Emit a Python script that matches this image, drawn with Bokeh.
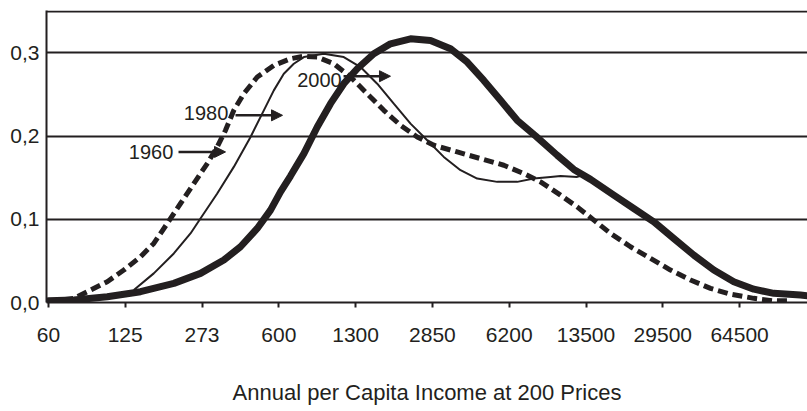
from bokeh.plotting import figure
from bokeh.models import Range1d, FixedTicker, Label, Arrow, NormalHead
from bokeh.embed import file_html
from bokeh.resources import INLINE

# x positions are expressed in tick-index units (0 = "60", 1 = "125", ...)
tick_labels = ["60", "125", "273", "600", "1300", "2850", "6200", "13500", "29500", "64500"]
y_ticks = [0.0, 0.1, 0.2, 0.3]
y_tick_labels = ["0,0", "0,1", "0,2", "0,3"]

x_1960 = [0.0, 0.331, 0.548, 0.766, 0.982, 1.199, 1.372, 1.547, 1.720, 1.893, 2.068, 2.198, 2.306, 2.414,
          2.544, 2.719, 2.935, 3.152, 3.326, 3.500, 3.716, 3.934, 4.151, 4.367, 4.585, 4.802, 5.018,
          5.323, 5.626, 5.930, 6.190, 6.408, 6.668, 6.885, 7.102, 7.319, 7.579, 7.840, 8.100, 8.361,
          8.621, 8.882, 9.185, 9.445, 9.624]
y_1960 = [0.001, 0.005, 0.015, 0.025, 0.039, 0.055, 0.071, 0.095, 0.119, 0.143, 0.167, 0.187, 0.207, 0.231,
          0.251, 0.271, 0.285, 0.293, 0.296, 0.295, 0.287, 0.271, 0.251, 0.231, 0.213, 0.199, 0.189,
          0.181, 0.173, 0.165, 0.155, 0.145, 0.129, 0.115, 0.099, 0.083, 0.067, 0.053, 0.039, 0.027,
          0.017, 0.010, 0.005, 0.002, 0.002]

x_1980 = [1.112, 1.372, 1.633, 1.850, 1.980, 2.198, 2.414, 2.632, 2.805, 2.935, 3.065, 3.195, 3.326, 3.586,
          3.846, 4.064, 4.281, 4.497, 4.715, 4.932, 5.148, 5.366, 5.583, 5.844, 6.104, 6.320, 6.538,
          6.668, 6.885, 6.960]
y_1980 = [0.015, 0.035, 0.059, 0.083, 0.101, 0.131, 0.163, 0.199, 0.231, 0.255, 0.275, 0.287, 0.295, 0.299,
          0.295, 0.283, 0.263, 0.239, 0.215, 0.195, 0.175, 0.159, 0.149, 0.145, 0.145, 0.149, 0.151,
          0.152, 0.151, 0.153]

x_2000 = [0.0, 0.331, 0.766, 1.199, 1.633, 1.980, 2.284, 2.501, 2.719, 2.892, 3.022, 3.152, 3.326, 3.500,
          3.673, 3.846, 4.021, 4.237, 4.454, 4.715, 4.975, 5.236, 5.453, 5.669, 5.887, 6.104, 6.346,
          6.625, 6.841, 7.059, 7.362, 7.622, 7.883, 8.143, 8.404, 8.664, 8.924, 9.185, 9.445, 9.792, 9.900]
y_2000 = [0.002, 0.003, 0.007, 0.013, 0.023, 0.035, 0.051, 0.067, 0.089, 0.111, 0.133, 0.152, 0.179, 0.211,
          0.239, 0.263, 0.281, 0.299, 0.311, 0.317, 0.315, 0.305, 0.289, 0.267, 0.243, 0.219, 0.200,
          0.177, 0.160, 0.148, 0.129, 0.113, 0.097, 0.077, 0.057, 0.039, 0.025, 0.016, 0.011, 0.009, 0.008]

# annotations: label text, label anchor, arrow start/end (tick-index units, value units)
ann_text = ["1960", "1980", "2000"]
ann_x = [1.047, 1.763, 3.240]
ann_y = [0.181, 0.228, 0.268]
arr_x0 = [1.694, 2.436, 3.843]
arr_x1 = [2.306, 3.048, 4.454]
arr_y = [0.181, 0.225, 0.272]

INK = "#231f20"
FONT = "Liberation Sans"

p = figure(frame_width=761, frame_height=292, output_backend="svg", toolbar_location=None,
           x_range=Range1d(-0.025, 9.884), y_range=Range1d(0, 0.351),
           min_border_left=46, min_border_right=0, min_border_top=10, min_border_bottom=0)
p.outline_line_color = None
p.background_fill_color = "white"
p.border_fill_color = "white"

# grid
p.xgrid.grid_line_color = None
p.ygrid.ticker = FixedTicker(ticks=[0.1, 0.2, 0.3, 0.35])
p.ygrid.grid_line_color = INK
p.ygrid.grid_line_width = 2

# x axis
p.xaxis.ticker = FixedTicker(ticks=list(range(len(tick_labels))))
p.xaxis.major_label_overrides = {i: t for i, t in enumerate(tick_labels)}
p.xaxis.minor_tick_line_color = None
p.xaxis.major_tick_out = 5
p.xaxis.major_tick_in = 0
p.xaxis.major_tick_line_width = 2
p.xaxis.major_tick_line_color = INK
p.xaxis.axis_line_width = 2
p.xaxis.axis_line_color = INK
p.xaxis.major_label_standoff = 20
p.xaxis.major_label_text_font = FONT
p.xaxis.major_label_text_font_size = "21px"
p.xaxis.major_label_text_color = INK
p.xaxis.axis_label = "Annual per Capita Income at 200 Prices"
p.xaxis.axis_label_text_font = FONT
p.xaxis.axis_label_text_font_size = "22px"
p.xaxis.axis_label_text_font_style = "normal"
p.xaxis.axis_label_text_color = INK
p.xaxis.axis_label_standoff = 35

# y axis
p.yaxis.ticker = FixedTicker(ticks=y_ticks)
p.yaxis.major_label_overrides = {t: l for t, l in zip(y_ticks, y_tick_labels)}
p.yaxis.minor_tick_line_color = None
p.yaxis.major_tick_out = 0
p.yaxis.major_tick_in = 0
p.yaxis.axis_line_width = 2
p.yaxis.axis_line_color = INK
p.yaxis.major_label_standoff = 7
p.yaxis.major_label_text_font = FONT
p.yaxis.major_label_text_font_size = "21px"
p.yaxis.major_label_text_color = INK

# curves
p.line(x_1960, y_1960, line_color=INK, line_width=5, line_dash="10 5")
p.line(x_1980, y_1980, line_color=INK, line_width=2)
p.line(x_2000, y_2000, line_color=INK, line_width=7, line_join="round", line_cap="round")

# annotations
for t, lx, ly, ax0, ax1, ay in zip(ann_text, ann_x, ann_y, arr_x0, arr_x1, arr_y):
    p.add_layout(Label(x=lx, y=ly, text=t, text_font=FONT, text_font_size="20px",
                       text_color=INK, text_baseline="middle", text_align="left"))
    p.add_layout(Arrow(x_start=ax0, y_start=ay, x_end=ax1, y_end=ay, line_width=2.5, line_color=INK,
                       end=NormalHead(size=11, fill_color=INK, line_color=INK)))

open("out.html", "w").write(file_html(p, INLINE))
